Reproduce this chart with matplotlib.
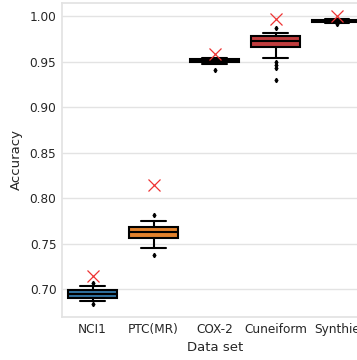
import matplotlib
matplotlib.use("Agg")
import matplotlib.pyplot as plt
import seaborn as sns

# data sets and box statistics
datasets = ["NCI1", "PTC(MR)", "COX-2", "Cuneiform", "Synthie"]
whislo = [0.687, 0.7458, 0.947, 0.9535, 0.9925]
q1 = [0.690, 0.7568, 0.9491, 0.9656, 0.9930]
med = [0.6946, 0.763, 0.9508, 0.9722, 0.9946]
q3 = [0.699, 0.7685, 0.9525, 0.9777, 0.9960]
whishi = [0.7033, 0.775, 0.9535, 0.9813, 0.9965]
fliers = [[0.7068, 0.6843], [0.782, 0.7374], [0.9407],
          [0.9865, 0.9495, 0.9465, 0.9432, 0.9297], [0.991]]
# reference accuracy (red crosses)
best = [0.7143, 0.8143, 0.958, 0.9963, 1.0]

palette = [sns.desaturate(c, 0.75) for c in plt.get_cmap("tab10").colors[:5]]

sns.set_theme(style="whitegrid", rc={"grid.color": "#e3e3e3",
                                     "axes.edgecolor": "#e3e3e3"})
plt.rcParams['font.family'] = ['DejaVu Sans']

fig = plt.figure(figsize=(3.57, 3.60), dpi=100)
ax = fig.add_axes([0.1737, 0.1194, 0.855, 0.873])

stats = []
for i, name in enumerate(datasets):
    stats.append(dict(label=name, med=med[i], q1=q1[i], q3=q3[i],
                      whislo=whislo[i], whishi=whishi[i], fliers=fliers[i]))

positions = list(range(len(datasets)))
lw = 1.5
bp = ax.bxp(stats, positions=positions, widths=0.8, capwidths=0.4,
            patch_artist=True, showfliers=True,
            boxprops=dict(edgecolor="black", linewidth=lw),
            medianprops=dict(color="black", linewidth=lw),
            whiskerprops=dict(color="black", linewidth=lw),
            capprops=dict(color="black", linewidth=lw),
            flierprops=dict(marker="d", markersize=2.2, markerfacecolor="black",
                            markeredgecolor="black"))
for patch, c in zip(bp["boxes"], palette):
    patch.set_facecolor(c)

ax.plot(positions, best, "x", color="#ee3333", markersize=9, markeredgewidth=0.9,
        zorder=5)

ax.set_xlim(-0.5, 4.5)
ax.set_ylim(0.6695, 1.0146)
ax.set_xticks(positions)
ax.set_xticklabels(datasets)
ax.grid(False, axis="x")
ax.tick_params(axis="both", labelsize=8.7, length=0)
ax.tick_params(axis="x", pad=4)
ax.tick_params(axis="y", pad=4)
ax.set_xlabel("Data set", fontsize=9.5, labelpad=4)
ax.set_ylabel("Accuracy", fontsize=9.5, labelpad=5)

fig.savefig("out.png", dpi=100)
